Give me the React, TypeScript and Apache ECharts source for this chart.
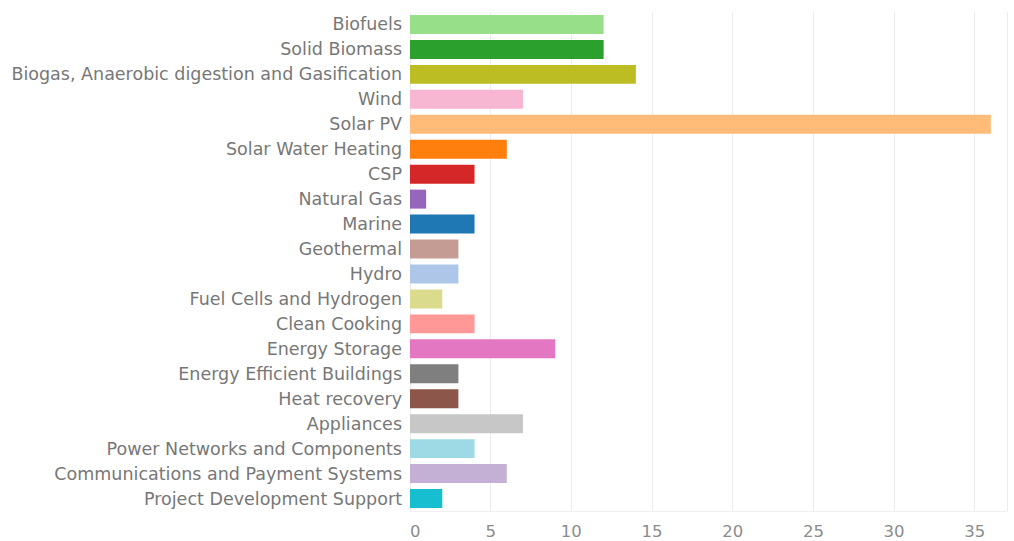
import React, { useEffect, useRef } from "react";
import * as echarts from "echarts";

const categories = [
  "Biofuels",
  "Solid Biomass",
  "Biogas, Anaerobic digestion and Gasification",
  "Wind",
  "Solar PV",
  "Solar Water Heating",
  "CSP",
  "Natural Gas",
  "Marine",
  "Geothermal",
  "Hydro",
  "Fuel Cells and Hydrogen",
  "Clean Cooking",
  "Energy Storage",
  "Energy Efficient Buildings",
  "Heat recovery",
  "Appliances",
  "Power Networks and Components",
  "Communications and Payment Systems",
  "Project Development Support",
];

const values = [12, 12, 14, 7, 36, 6, 4, 1, 4, 3, 3, 2, 4, 9, 3, 3, 7, 4, 6, 2];

const colors = [
  "#98df8a", "#2ca02c", "#bcbd22", "#f7b6d2", "#ffbb78",
  "#ff7f0e", "#d62728", "#9467bd", "#1f77b4", "#c49c94",
  "#aec7e8", "#dbdb8d", "#ff9896", "#e377c2", "#7f7f7f",
  "#8c564b", "#c7c7c7", "#9edae5", "#c5b0d5", "#17becf",
];

const xTicks = [0, 5, 10, 15, 20, 25, 30, 35];

export default function App() {
  const ref = useRef<HTMLDivElement>(null);
  useEffect(() => {
    if (!ref.current) return;
    const chart = echarts.init(ref.current, null, { renderer: "svg" });
    const font = "DejaVu Sans";
    chart.setOption({
      animation: false,
      backgroundColor: "#ffffff",
      grid: { left: 410, right: 7, top: 12, bottom: 30, containLabel: false },
      xAxis: {
        type: "value",
        min: 0,
        max: 37,
        interval: 5,
        axisLine: { show: true, lineStyle: { color: "#f0f0f0", width: 1 } },
        axisTick: { show: false },
        splitLine: { show: true, lineStyle: { color: "#ececec", width: 1 } },
        axisLabel: {
          color: "#8c8c8c",
          fontFamily: font,
          fontSize: 16.5,
          margin: 12,
          alignMinLabel: "left",
          formatter: (v: number) => (xTicks.includes(v) ? String(v) : ""),
        },
      },
      yAxis: {
        type: "category",
        inverse: true,
        data: categories,
        axisLine: { show: false },
        axisTick: { show: false },
        splitLine: { show: false },
        axisLabel: {
          color: "#777777",
          fontFamily: font,
          fontSize: 17.5,
          margin: 8,
        },
      },
      series: [
        {
          type: "bar",
          data: values.map((v, i) => ({ value: v, itemStyle: { color: colors[i] } })),
          barCategoryGap: "24%",
        },
      ],
    });
    return () => chart.dispose();
  }, []);
  return (
    <div
      ref={ref}
      style={{ position: "fixed", left: 0, top: 0, width: 1014, height: 541 }}
    />
  );
}
